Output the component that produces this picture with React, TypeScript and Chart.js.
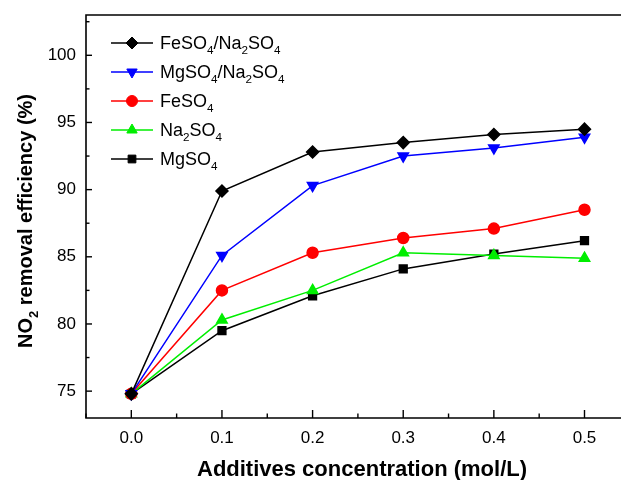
import React, { useEffect, useRef } from "react";
import { Chart, registerables } from "chart.js";
Chart.register(...registerables);

const concentrations = [0.0, 0.1, 0.2, 0.3, 0.4, 0.5];
const feNa = [74.8, 89.9, 92.8, 93.5, 94.1, 94.5];
const mgNa = [74.8, 85.1, 90.3, 92.5, 93.1, 93.9];
const fe = [74.8, 82.5, 85.3, 86.4, 87.1, 88.5];
const na = [74.8, 80.3, 82.5, 85.3, 85.1, 84.9];
const mg = [74.8, 79.5, 82.1, 84.1, 85.2, 86.2];
const yTicks = [75, 80, 85, 90, 95, 100];
const xTicks = [0.0, 0.1, 0.2, 0.3, 0.4, 0.5];

const seriesNames = ["FeSO_4/Na_2SO_4", "MgSO_4/Na_2SO_4", "FeSO_4", "Na_2SO_4", "MgSO_4"];
const seriesColors = ["#000000", "#0000ff", "#ff0000", "#00ee00", "#000000"];
const seriesPoints = ["rectRot", "triangle", "circle", "triangle", "rect"];
const seriesRot = [0, 180, 0, 0, 0];
const seriesRadius = [6, 6, 5.5, 6, 5.5];
const seriesData = [feNa, mgNa, fe, na, mg];

const FONT = "'Liberation Sans', Arial, sans-serif";
const SUB = 0.65;

function parseRich(s: string) {
  const segs: { t: string; sub: boolean }[] = [];
  let i = 0;
  let cur = "";
  while (i < s.length) {
    if (s[i] === "_") {
      if (cur) segs.push({ t: cur, sub: false });
      cur = "";
      segs.push({ t: s[i + 1], sub: true });
      i += 2;
    } else {
      cur += s[i];
      i++;
    }
  }
  if (cur) segs.push({ t: cur, sub: false });
  return segs;
}

function richWidth(ctx: CanvasRenderingContext2D, s: string, size: number, bold: boolean) {
  let w = 0;
  for (const seg of parseRich(s)) {
    ctx.font = `${bold ? "bold " : ""}${seg.sub ? size * SUB : size}px ${FONT}`;
    w += ctx.measureText(seg.t).width;
  }
  return w;
}

function drawRich(ctx: CanvasRenderingContext2D, s: string, x: number, y: number, size: number, bold: boolean) {
  ctx.textBaseline = "alphabetic";
  ctx.textAlign = "left";
  let cx = x;
  for (const seg of parseRich(s)) {
    const fs = seg.sub ? size * SUB : size;
    ctx.font = `${bold ? "bold " : ""}${fs}px ${FONT}`;
    ctx.fillText(seg.t, cx, seg.sub ? y + size * 0.3 : y);
    cx += ctx.measureText(seg.t).width;
  }
}

function drawMarker(ctx: CanvasRenderingContext2D, style: string, rot: number, r: number, x: number, y: number) {
  ctx.beginPath();
  if (style === "circle") {
    ctx.arc(x, y, r, 0, Math.PI * 2);
  } else if (style === "rect") {
    const s = r * Math.SQRT1_2;
    ctx.rect(x - s, y - s, 2 * s, 2 * s);
  } else if (style === "rectRot") {
    ctx.moveTo(x, y - r);
    ctx.lineTo(x + r, y);
    ctx.lineTo(x, y + r);
    ctx.lineTo(x - r, y);
    ctx.closePath();
  } else if (style === "triangle") {
    const d = rot === 180 ? -1 : 1;
    const h = r * 1.5;
    const hw = r * 0.866;
    ctx.moveTo(x, y - d * r);
    ctx.lineTo(x + hw, y + d * (h - r));
    ctx.lineTo(x - hw, y + d * (h - r));
    ctx.closePath();
  }
  ctx.fill();
  ctx.stroke();
}

const framePlugin = {
  id: "frame",
  afterDraw(chart: any) {
    const ctx: CanvasRenderingContext2D = chart.ctx;
    const { left, top, bottom } = chart.chartArea;
    const xs = chart.scales.x;
    const ys = chart.scales.y;
    ctx.save();
    ctx.strokeStyle = "#000";
    ctx.fillStyle = "#000";
    ctx.lineWidth = 1.6;
    ctx.beginPath();
    ctx.moveTo(chart.width + 2, top);
    ctx.lineTo(left, top);
    ctx.lineTo(left, bottom);
    ctx.lineTo(chart.width + 2, bottom);
    ctx.stroke();
    ctx.lineWidth = 1.4;
    for (let v = 72.5; v <= 103; v += 2.5) {
      const p = ys.getPixelForValue(v);
      if (p < top || p > bottom) continue;
      const major = Math.abs(v % 5) < 1e-6;
      ctx.beginPath();
      ctx.moveTo(left, p);
      ctx.lineTo(left + (major ? 6 : 3.5), p);
      ctx.stroke();
    }
    for (let k = -1; k <= 11; k++) {
      const v = k * 0.05;
      const p = xs.getPixelForValue(v);
      if (p < left || p > chart.width) continue;
      const major = k % 2 === 0;
      ctx.beginPath();
      ctx.moveTo(p, bottom);
      ctx.lineTo(p, bottom - (major ? 8 : 4.5));
      ctx.stroke();
    }
    const xTitle = "Additives concentration (mol/L)";
    const tw = richWidth(ctx, xTitle, 22, true);
    drawRich(ctx, xTitle, 362 - tw / 2, 476, 22, true);
    const yTitle = "NO_2 removal efficiency (%)";
    const yw = richWidth(ctx, yTitle, 20, true);
    ctx.save();
    ctx.translate(32, 221);
    ctx.rotate(-Math.PI / 2);
    drawRich(ctx, yTitle, -yw / 2, 0, 20, true);
    ctx.restore();
    for (let i = 0; i < seriesNames.length; i++) {
      const cy = 43 + i * 29;
      ctx.strokeStyle = seriesColors[i];
      ctx.fillStyle = seriesColors[i];
      ctx.lineWidth = 1.5;
      ctx.beginPath();
      ctx.moveTo(111, cy);
      ctx.lineTo(153, cy);
      ctx.stroke();
      ctx.lineWidth = 1;
      drawMarker(ctx, seriesPoints[i], seriesRot[i], seriesRadius[i], 132, cy);
      ctx.fillStyle = "#000";
      drawRich(ctx, seriesNames[i], 160, cy + 6, 18, false);
    }
    ctx.restore();
  },
};

export default function App() {
  const ref = useRef<HTMLCanvasElement>(null);
  useEffect(() => {
    if (!ref.current) return;
    const chart = new Chart(ref.current, {
      type: "line",
      data: {
        datasets: seriesNames.map((n, i) => ({
          label: n,
          data: concentrations.map((c, j) => ({ x: c, y: seriesData[i][j] })),
          borderColor: seriesColors[i],
          backgroundColor: seriesColors[i],
          pointBorderColor: seriesColors[i],
          pointBackgroundColor: seriesColors[i],
          pointStyle: seriesPoints[i] as any,
          pointRotation: seriesRot[i],
          pointRadius: seriesRadius[i],
          borderWidth: 1.5,
          tension: 0,
          fill: false,
        })),
      },
      options: {
        responsive: false,
        animation: false,
        layout: { padding: { top: 15, right: 0, left: 0, bottom: 0 } },
        plugins: { legend: { display: false }, tooltip: { enabled: false }, title: { display: false } },
        scales: {
          x: {
            type: "linear",
            min: -0.05,
            max: 0.532,
            grid: { display: false, drawTicks: false },
            border: { display: false },
            afterFit: (s: any) => {
              s.height = 62;
              s.paddingLeft = 0;
              s.paddingRight = 0;
              s.paddingTop = 0;
              s.paddingBottom = 0;
            },
            afterBuildTicks: (s: any) => {
              s.ticks = xTicks.map((v) => ({ value: v }));
            },
            ticks: {
              padding: 10,
              color: "#000",
              font: { family: FONT, size: 17 },
              callback: (v: any) => Number(v).toFixed(1),
            },
          },
          y: {
            type: "linear",
            min: 73,
            max: 103,
            grid: { display: false, drawTicks: false },
            border: { display: false },
            afterFit: (s: any) => {
              s.width = 86;
              s.paddingLeft = 0;
              s.paddingRight = 0;
              s.paddingTop = 0;
              s.paddingBottom = 0;
            },
            afterBuildTicks: (s: any) => {
              s.ticks = yTicks.map((v) => ({ value: v }));
            },
            ticks: {
              padding: 10,
              color: "#000",
              font: { family: FONT, size: 17 },
              callback: (v: any) => String(v),
            },
          },
        },
      },
      plugins: [framePlugin],
    } as any);
    return () => {
      chart.destroy();
    };
  }, []);
  return (
    <div style={{ position: "fixed", left: 0, top: 0, width: 621, height: 480, background: "#fff" }}>
      <canvas ref={ref} width={621} height={480} style={{ width: 621, height: 480, display: "block" }} />
    </div>
  );
}
